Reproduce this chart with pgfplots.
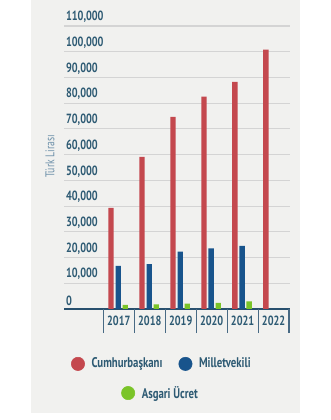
\documentclass[border=0pt]{standalone}
\usepackage{pgfplots}
\pgfplotsset{compat=1.18}
\usepackage{fontspec}
\setmainfont{PT Sans}[FakeStretch=0.77]
\definecolor{cred}{RGB}{196,72,78}
\definecolor{cblue}{RGB}{24,84,140}
\definecolor{cgreen}{RGB}{122,196,40}
\definecolor{panel}{RGB}{241,241,239}
\definecolor{lab}{RGB}{45,90,115}
\definecolor{ylab}{RGB}{110,145,170}
\definecolor{gridc}{RGB}{212,212,212}
\definecolor{axc}{RGB}{40,80,110}
\begin{document}
\begin{tikzpicture}[x=0.75pt,y=0.75pt]
\useasboundingbox (0,0) rectangle (331,420);
\fill[white] (0,0) rectangle (331,420);
\fill[panel] (30.5,7) rectangle (300,420);
\begin{axis}[
  at={(48pt,83.25pt)}, anchor=south west,
  scale only axis, width=169.5pt, height=212.25pt,
  xmin=-1.77, xmax=5.53, ymin=0, ymax=110000,
  axis x line*=bottom, axis y line*=left,
  y axis line style={draw=none},
  x axis line style={axc, line width=1.3pt},
  xtick={0,...,5}, xticklabels={2017,2018,2019,2020,2021,2022},
  ytick={0,10000,...,110000},
  major tick length=0pt,
  extra x ticks={-0.5,0.5,1.5,2.5,3.5,4.5,5.5},
  extra x tick labels={},
  extra x tick style={major tick length=18pt, tick align=outside, tick style={axc!85, line width=0.9pt}, grid=none},
  ymajorgrids, grid style={gridc, line width=0.8pt},
  scaled y ticks=false,
  yticklabel style={/pgf/number format/fixed, /pgf/number format/1000 sep={,}, /pgf/number format/assume math mode=true},
  ticklabel style={font=\bfseries\fontsize{10}{12}\selectfont, text=lab},
  yticklabel style={anchor=south west, xshift=-2pt, yshift=-1pt},
  xticklabel style={yshift=-2pt},
  every axis y label/.style={at={(axis description cs:-0.062,0.54)}, rotate=90, anchor=center, font=\fontsize{9.5}{11}\selectfont, text=ylab},
  ylabel={Türk Lirası},
  legend style={draw=none, fill=none, at={(0.03,-0.194)}, anchor=west, legend columns=2,
    font=\bfseries\fontsize{10.5}{12}\selectfont, text=lab, inner sep=0pt,
    /tikz/every odd column/.append style={column sep=3pt},
    /tikz/every even column/.append style={column sep=10pt}},
  legend cell align=left,
]
\addplot[ybar, bar width=4pt, bar shift=-5.8pt, fill=cred, draw=none, forget plot] coordinates {(0,39300) (1,59100) (2,74700) (3,82500) (4,88300) (5,100800)};
\addplot[ybar, bar width=4pt, bar shift=-0.4pt, fill=cblue, draw=none, forget plot] coordinates {(0,16800) (1,17400) (2,22300) (3,23600) (4,24500)};
\addplot[ybar, bar width=4pt, bar shift=4.9pt, fill=cgreen, draw=none, forget plot] coordinates {(0,1600) (1,1800) (2,2100) (3,2400) (4,3000)};
\addlegendimage{legend image code/.code={\fill[cred] (0,0) circle (5pt);}}
\addlegendentry{Cumhurbaşkanı}
\addlegendimage{legend image code/.code={\fill[cblue] (0,0) circle (5pt);}}
\addlegendentry{Milletvekili}
\end{axis}
\begin{axis}[
  at={(48pt,83.25pt)}, anchor=south west,
  scale only axis, width=169.5pt, height=212.25pt,
  xmin=0, xmax=1, ymin=0, ymax=1, hide axis,
  legend style={draw=none, fill=none, at={(0.252,-0.297)}, anchor=west,
    font=\bfseries\fontsize{10.5}{12}\selectfont, text=lab, inner sep=0pt,
    /tikz/every odd column/.append style={column sep=3pt}},
  legend cell align=left,
]
\addplot[draw=none, forget plot] coordinates {(0,0)};
\addlegendimage{legend image code/.code={\fill[cgreen] (0,0) circle (5pt);}}
\addlegendentry{Asgari Ücret}
\end{axis}
\end{tikzpicture}
\end{document}
